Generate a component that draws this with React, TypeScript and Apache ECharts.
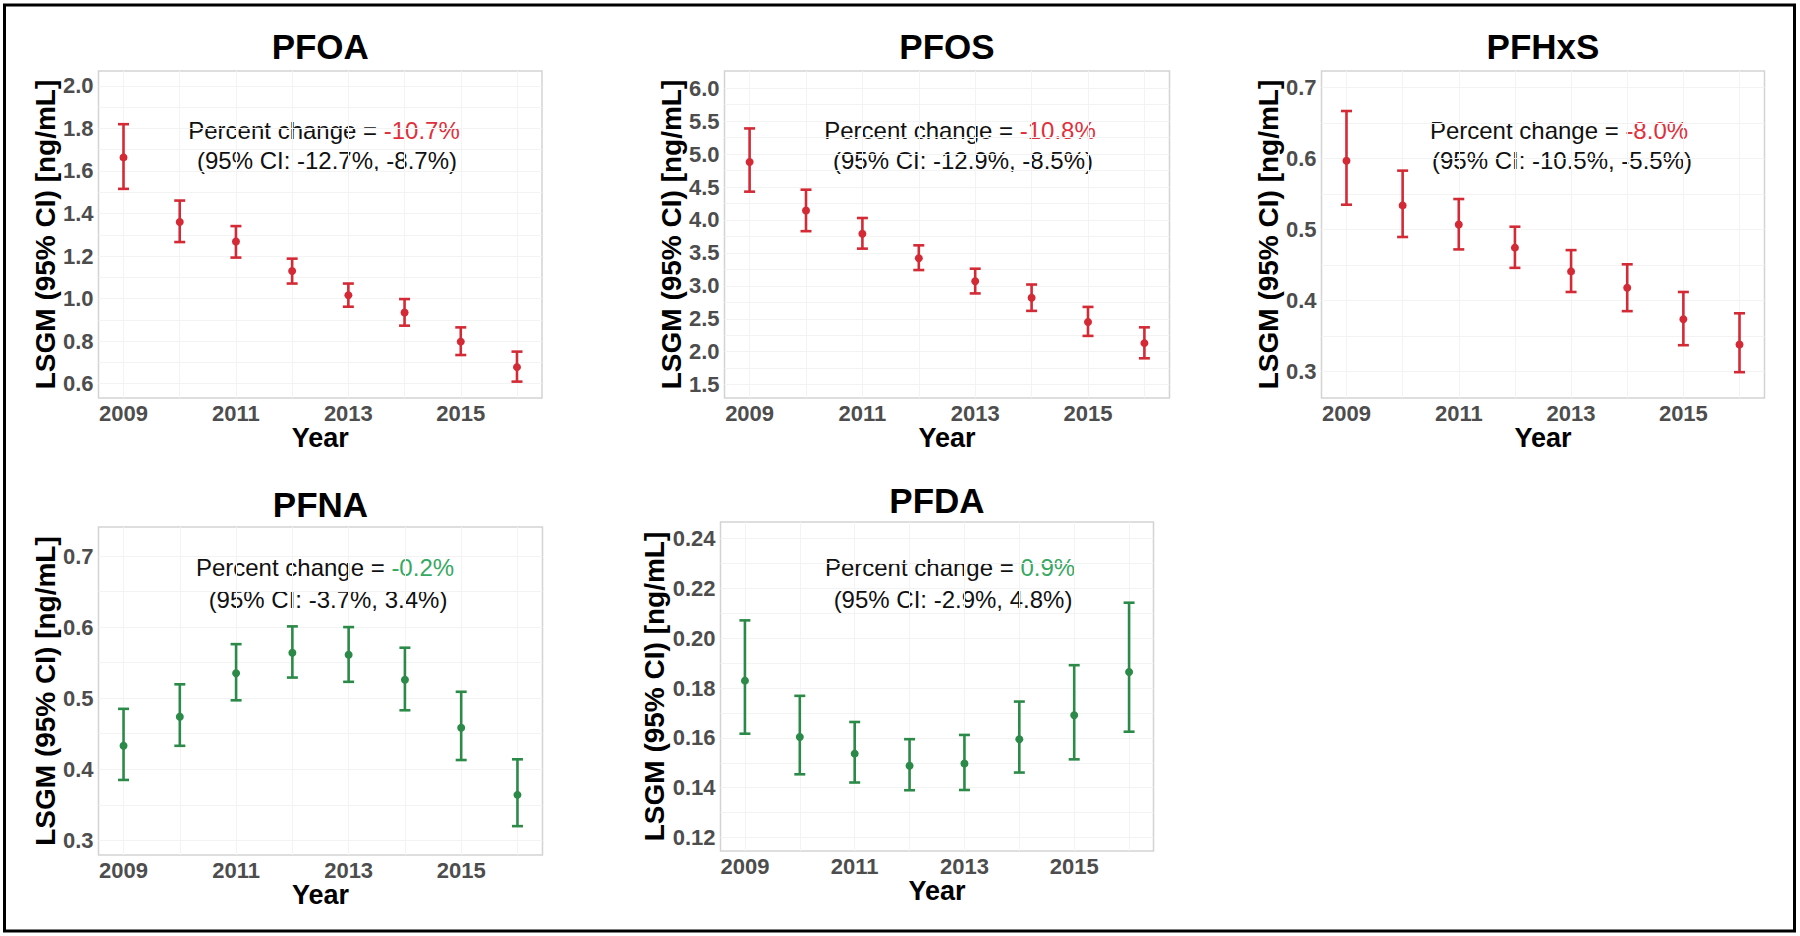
import React, { useEffect, useRef } from 'react';
import * as echarts from 'echarts';

// ---------------- data ----------------
const YEARS = [2009, 2010, 2011, 2012, 2013, 2014, 2015, 2016];
const YEAR_TICK_LABELS = [2009, 2011, 2013, 2015];

const PFOA_MEAN = [1.664, 1.36, 1.269, 1.13, 1.016, 0.935, 0.798, 0.678];
const PFOA_LOWER = [1.516, 1.266, 1.193, 1.071, 0.962, 0.873, 0.735, 0.61];
const PFOA_UPPER = [1.82, 1.461, 1.341, 1.188, 1.071, 0.998, 0.865, 0.751];
const PFOA_Y_TICKS = [0.6, 0.8, 1.0, 1.2, 1.4, 1.6, 1.8, 2.0];

const PFOS_MEAN = [4.88, 4.145, 3.79, 3.42, 3.07, 2.82, 2.45, 2.13];
const PFOS_LOWER = [4.43, 3.83, 3.565, 3.24, 2.885, 2.62, 2.24, 1.9];
const PFOS_UPPER = [5.39, 4.46, 4.03, 3.615, 3.26, 3.02, 2.68, 2.37];
const PFOS_Y_TICKS = [1.5, 2.0, 2.5, 3.0, 3.5, 4.0, 4.5, 5.0, 5.5, 6.0];

const PFHXS_MEAN = [0.597, 0.534, 0.507, 0.4745, 0.441, 0.418, 0.3735, 0.338];
const PFHXS_LOWER = [0.535, 0.4895, 0.472, 0.446, 0.412, 0.385, 0.337, 0.299];
const PFHXS_UPPER = [0.667, 0.583, 0.543, 0.504, 0.471, 0.451, 0.412, 0.382];
const PFHXS_Y_TICKS = [0.3, 0.4, 0.5, 0.6, 0.7];

const PFNA_MEAN = [0.433, 0.474, 0.535, 0.564, 0.561, 0.526, 0.4585, 0.364];
const PFNA_LOWER = [0.385, 0.433, 0.497, 0.529, 0.523, 0.483, 0.413, 0.32];
const PFNA_UPPER = [0.485, 0.5195, 0.576, 0.601, 0.6, 0.571, 0.509, 0.414];
const PFNA_Y_TICKS = [0.3, 0.4, 0.5, 0.6, 0.7];

const PFDA_MEAN = [0.183, 0.1604, 0.1537, 0.1488, 0.1497, 0.1595, 0.1691, 0.1865];
const PFDA_LOWER = [0.1617, 0.1454, 0.1421, 0.139, 0.1391, 0.1461, 0.1514, 0.1625];
const PFDA_UPPER = [0.2072, 0.1769, 0.1664, 0.1595, 0.1612, 0.1746, 0.1892, 0.2143];
const PFDA_Y_TICKS = [0.12, 0.14, 0.16, 0.18, 0.2, 0.22, 0.24];

const CHEMICALS = ['PFOA', 'PFOS', 'PFHxS', 'PFNA', 'PFDA'];
const PERCENT_CHANGE = ['-10.7%', '-10.8%', '-8.0%', '-0.2%', '0.9%'];
const CI_TEXT = [
  '(95% CI: -12.7%, -8.7%)',
  '(95% CI: -12.9%, -8.5%)',
  '(95% CI: -10.5%, -5.5%)',
  '(95% CI: -3.7%, 3.4%)',
  '(95% CI: -2.9%, 4.8%)',
];
const Y_AXIS_TITLE = 'LSGM (95% CI) [ng/mL]';
const X_AXIS_TITLE = 'Year';

// ---------------- layout / style ----------------
const FONT = "'Liberation Sans', Arial, Helvetica, sans-serif";
const RED = '#d42a35';
const RED_TEXT = '#e0303c';
const GREEN = '#2c8a48';
const GREEN_TEXT = '#37a862';
const X_MIN = 2008.555;
const X_MAX = 2016.445;

const PANELS = [
  { mean: PFOA_MEAN, lower: PFOA_LOWER, upper: PFOA_UPPER, ticks: PFOA_Y_TICKS, yMin: 0.533, yMax: 2.07, dec: 1,
    box: [98.5, 71, 443.5, 327], titleY: 46, annX: 324, annY1: 130, annY2: 160, color: RED, textColor: RED_TEXT },
  { mean: PFOS_MEAN, lower: PFOS_LOWER, upper: PFOS_UPPER, ticks: PFOS_Y_TICKS, yMin: 1.297, yMax: 6.262, dec: 1,
    box: [724.5, 71, 445, 327], titleY: 46, annX: 960, annY1: 130, annY2: 160, color: RED, textColor: RED_TEXT },
  { mean: PFHXS_MEAN, lower: PFHXS_LOWER, upper: PFHXS_UPPER, ticks: PFHXS_Y_TICKS, yMin: 0.2626, yMax: 0.7234, dec: 1,
    box: [1321.5, 71, 443, 327], titleY: 46, annX: 1559, annY1: 130, annY2: 160, color: RED, textColor: RED_TEXT },
  { mean: PFNA_MEAN, lower: PFNA_LOWER, upper: PFNA_UPPER, ticks: PFNA_Y_TICKS, yMin: 0.2794, yMax: 0.7408, dec: 1,
    box: [98.5, 527, 444, 328], titleY: 504, annX: 325, annY1: 567.5, annY2: 599, color: GREEN, textColor: GREEN_TEXT },
  { mean: PFDA_MEAN, lower: PFDA_LOWER, upper: PFDA_UPPER, ticks: PFDA_Y_TICKS, yMin: 0.1146, yMax: 0.2467, dec: 2,
    box: [720.5, 522, 433, 329], titleY: 500, annX: 950, annY1: 567.5, annY2: 599, color: GREEN, textColor: GREEN_TEXT },
];

function withMinors(ticks: number[]): number[] {
  const out: number[] = [];
  for (let i = 0; i < ticks.length; i++) {
    out.push(ticks[i]);
    if (i < ticks.length - 1) out.push((ticks[i] + ticks[i + 1]) / 2);
  }
  return out;
}

function buildOption() {
  const grid: any[] = [];
  const xAxis: any[] = [];
  const yAxis: any[] = [];
  const series: any[] = [];
  const graphic: any[] = [];

  PANELS.forEach((p, i) => {
    const [left, top, width, height] = p.box;
    grid.push({
      left, top, width, height,
      show: true,
      borderColor: '#d3d3d3',
      borderWidth: 1.5,
      backgroundColor: '#ffffff',
      containLabel: false,
    });
    xAxis.push({
      type: 'value',
      gridIndex: i,
      min: X_MIN,
      max: X_MAX,
      axisLine: { show: false },
      axisTick: { show: false, customValues: YEARS },
      axisLabel: {
        customValues: YEAR_TICK_LABELS,
        formatter: (v: number) => String(Math.round(v)),
        fontSize: 22,
        fontWeight: 'bold',
        fontFamily: FONT,
        color: '#4d4d4d',
        margin: 4,
      },
      splitLine: { show: true, lineStyle: { color: '#f3f3f3', width: 1 } },
      name: X_AXIS_TITLE,
      nameLocation: 'middle',
      nameGap: 24,
      nameTextStyle: { fontSize: 27, fontWeight: 'bold', fontFamily: FONT, color: '#000' },
    });
    yAxis.push({
      type: 'value',
      gridIndex: i,
      min: p.yMin,
      max: p.yMax,
      axisLine: { show: false },
      axisTick: { show: false, customValues: withMinors(p.ticks) },
      axisLabel: {
        customValues: p.ticks,
        formatter: (v: number) => v.toFixed(p.dec),
        fontSize: 22,
        fontWeight: 'bold',
        fontFamily: FONT,
        color: '#4d4d4d',
        margin: 5,
      },
      splitLine: { show: true, lineStyle: { color: '#f3f3f3', width: 1 } },
      name: Y_AXIS_TITLE,
      nameLocation: 'middle',
      nameRotate: 90,
      nameGap: 36,
      nameTextStyle: { fontSize: 28, fontWeight: 'bold', fontFamily: FONT, color: '#000' },
    });
    const data = YEARS.map((y, k) => [y, p.lower[k], p.upper[k], p.mean[k]]);
    const color = p.color;
    series.push({
      type: 'custom',
      name: CHEMICALS[i],
      xAxisIndex: i,
      yAxisIndex: i,
      data,
      encode: { x: 0, y: [1, 2, 3] },
      renderItem: (params: any, api: any) => {
        const x = api.value(0);
        const lo = api.coord([x, api.value(1)]);
        const hi = api.coord([x, api.value(2)]);
        const m = api.coord([x, api.value(3)]);
        const hw = 5.5;
        const ls = { stroke: color, lineWidth: 2.6 };
        return {
          type: 'group',
          children: [
            { type: 'line', shape: { x1: lo[0], y1: lo[1], x2: hi[0], y2: hi[1] }, style: ls },
            { type: 'line', shape: { x1: lo[0] - hw, y1: lo[1], x2: lo[0] + hw, y2: lo[1] }, style: ls },
            { type: 'line', shape: { x1: hi[0] - hw, y1: hi[1], x2: hi[0] + hw, y2: hi[1] }, style: ls },
            { type: 'circle', shape: { cx: m[0], cy: m[1], r: 4 }, style: { fill: color } },
          ],
        };
      },
    });

    // panel title
    graphic.push({
      type: 'text',
      x: left + width / 2,
      y: p.titleY,
      style: {
        text: CHEMICALS[i],
        fontSize: 35,
        fontWeight: 'bold',
        fontFamily: FONT,
        fill: '#000',
        align: 'center',
        verticalAlign: 'middle',
      },
    });
    // annotation
    graphic.push({
      type: 'text',
      x: p.annX,
      y: p.annY1,
      style: {
        text: '{k|Percent change = }{v|' + PERCENT_CHANGE[i] + '}',
        rich: {
          k: { fill: '#111', fontSize: 24, fontFamily: FONT },
          v: { fill: p.textColor, fontSize: 24, fontFamily: FONT },
        },
        align: 'center',
        verticalAlign: 'middle',
      },
    });
    graphic.push({
      type: 'text',
      x: p.annX + 3,
      y: p.annY2,
      style: {
        text: CI_TEXT[i],
        fontSize: 24,
        fontFamily: FONT,
        fill: '#111',
        align: 'center',
        verticalAlign: 'middle',
      },
    });
  });

  // outer frame
  graphic.push({
    type: 'rect',
    shape: { x: 4.5, y: 5, width: 1790, height: 926 },
    style: { fill: 'none', stroke: '#000', lineWidth: 3 },
    z: 100,
  });

  return {
    animation: false,
    backgroundColor: '#ffffff',
    textStyle: { fontFamily: FONT },
    grid,
    xAxis,
    yAxis,
    series,
    graphic,
  };
}

export default function App() {
  const ref = useRef<HTMLDivElement>(null);
  useEffect(() => {
    if (!ref.current) return;
    const chart = echarts.init(ref.current, undefined, { renderer: 'svg' });
    chart.setOption(buildOption() as any);
    return () => {
      chart.dispose();
    };
  }, []);
  return (
    <div
      ref={ref}
      style={{ position: 'absolute', left: 0, top: 0, width: 1800, height: 936, background: '#fff' }}
    />
  );
}
